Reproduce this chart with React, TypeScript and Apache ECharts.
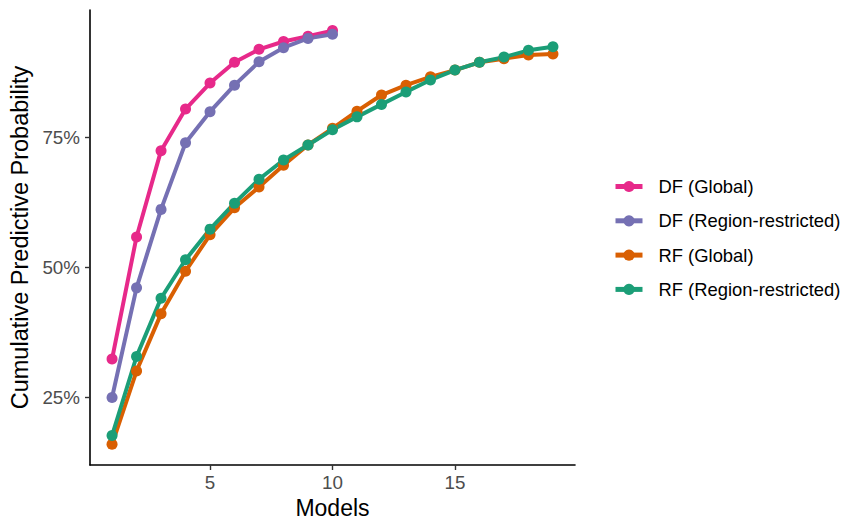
import React, { useEffect, useRef } from "react";
import * as echarts from "echarts";

const models = [1, 2, 3, 4, 5, 6, 7, 8, 9, 10, 11, 12, 13, 14, 15, 16, 17, 18, 19];
const dfGlobal = [32.3, 55.8, 72.4, 80.4, 85.4, 89.4, 91.9, 93.4, 94.4, 95.5];
const dfRegion = [24.9, 46.0, 61.1, 73.9, 79.9, 85.0, 89.5, 92.2, 94.0, 94.8];
const rfGlobal = [15.9, 30.0, 41.0, 49.2, 56.2, 61.4, 65.4, 69.6, 73.5, 76.7, 80.0, 83.1, 85.0, 86.6, 87.9, 89.4, 90.1, 90.8, 91.0];
const rfRegion = [17.6, 32.8, 44.0, 51.4, 57.3, 62.3, 66.9, 70.6, 73.5, 76.4, 78.9, 81.3, 83.7, 86.0, 87.9, 89.4, 90.4, 91.7, 92.4];
const seriesNames = ["DF (Global)", "DF (Region-restricted)", "RF (Global)", "RF (Region-restricted)"];
const seriesColors = ["#E7298A", "#7570B3", "#D95F02", "#1B9E77"];
const xTicks = [5, 10, 15];
const yTicks = [25, 50, 75];

const FONT = "'Liberation Sans', Arial, sans-serif";

export default function App() {
  const ref = useRef<HTMLDivElement>(null);
  useEffect(() => {
    if (!ref.current) return;
    const chart = echarts.init(ref.current, null, { renderer: "svg" });
    const all = [dfGlobal, dfRegion, rfGlobal, rfRegion];
    chart.setOption({
      animation: false,
      backgroundColor: "#ffffff",
      textStyle: { fontFamily: FONT },
      grid: { left: 90, width: 485, top: 10, height: 455, containLabel: false, outerBoundsMode: "none" },
      legend: {
        orient: "vertical",
        left: 608,
        top: 172,
        padding: 5,
        itemWidth: 27,
        itemHeight: 14,
        itemGap: 15.3,
        lineStyle: { width: 5 },
        textStyle: { fontSize: 18.4, lineHeight: 19, color: "#000", fontFamily: FONT, padding: [0, 0, 0, 11] },
        data: seriesNames,
      },
      xAxis: {
        type: "value",
        min: 0.1,
        max: 19.9,
        name: "Models",
        nameLocation: "middle",
        nameGap: 28,
        nameTextStyle: { fontSize: 23, lineHeight: 22, color: "#000", fontFamily: FONT },
        axisLine: { lineStyle: { color: "#000", width: 1.6 } },
        axisTick: { show: true, length: 5, lineStyle: { color: "#333", width: 1.4 }, customValues: xTicks },
        axisLabel: { fontSize: 18.8, color: "#4D4D4D", margin: 8, customValues: xTicks },
        splitLine: { show: false },
      },
      yAxis: {
        type: "value",
        min: 11.92,
        max: 99.46,
        name: "Cumulative Predictive Probability",
        nameLocation: "middle",
        nameGap: 53,
        nameTextStyle: { fontSize: 23.5, color: "#000", fontFamily: FONT },
        axisLine: { show: true, lineStyle: { color: "#000", width: 1.6 } },
        axisTick: { show: true, length: 5, lineStyle: { color: "#333", width: 1.4 }, customValues: yTicks },
        axisLabel: { fontSize: 18.8, color: "#4D4D4D", margin: 10, customValues: yTicks, formatter: (v: number) => `${v}%` },
        splitLine: { show: false },
      },
      series: all.map((arr, i) => ({
        name: seriesNames[i],
        type: "line",
        data: arr.map((v, j) => [models[j], v]),
        symbol: "circle",
        symbolSize: 11,
        showSymbol: true,
        color: seriesColors[i],
        lineStyle: { width: 4, color: seriesColors[i] },
        itemStyle: { color: seriesColors[i] },
        emphasis: { disabled: true },
      })),
    });
    return () => chart.dispose();
  }, []);
  return <div ref={ref} style={{ position: "absolute", left: 0, top: 0, width: 846, height: 519 }} />;
}
